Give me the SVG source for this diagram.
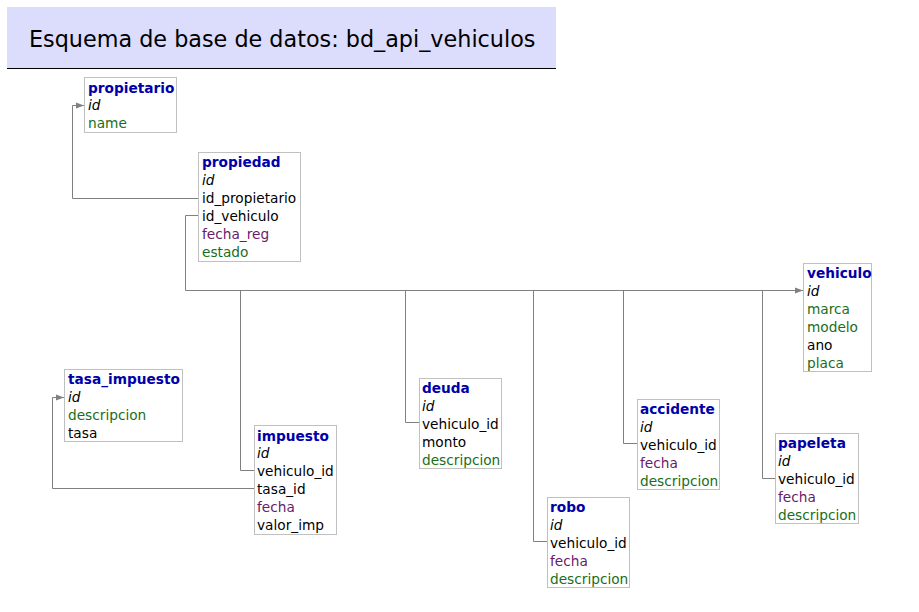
<svg xmlns="http://www.w3.org/2000/svg" width="919" height="612" viewBox="0 0 919 612">
<defs>
<style>
text{font-family:"DejaVu Sans",Verdana,sans-serif;font-size:13.7px;fill:#000}
.t{font-weight:bold;fill:#0000a8}
.k{font-style:italic}
.g{fill:#1a6e1a}
.p{fill:#6a1a6a}
.box{fill:#fff;stroke:#c0c0c0;stroke-width:1}
.c{fill:none;stroke:#808080;stroke-width:1}
</style>
<marker id="ar" markerWidth="8" markerHeight="7" refX="8" refY="3.5" orient="auto" markerUnits="userSpaceOnUse">
<path d="M0,0.5 L8,3.5 L0,6.5 Z" fill="#808080"/>
</marker>
</defs>
<rect width="919" height="612" fill="#fff"/>
<g id="header">
<rect x="7" y="7" width="549" height="61" fill="#dcdcfc"/>
<line x1="7" y1="68.5" x2="556" y2="68.5" stroke="#000" stroke-width="1"/>
<text x="29" y="47" style="font-size:22.3px">Esquema de base de datos: bd_api_vehiculos</text>
</g>
<g id="connectors">
<path class="c" d="M198,198.5 H72.5 V105.5 H84" marker-end="url(#ar)"/>
<path class="c" d="M198,215.5 H185.5 V290.5 H803" marker-end="url(#ar)"/>
<path class="c" d="M240.5,290.5 V470.5 H254"/>
<path class="c" d="M405.5,290.5 V422.5 H419"/>
<path class="c" d="M533.5,290.5 V541.5 H547"/>
<path class="c" d="M623.5,290.5 V443.5 H637"/>
<path class="c" d="M762.5,290.5 V478.5 H775"/>
<path class="c" d="M254,488.5 H52.5 V397.5 H64" marker-end="url(#ar)"/>
</g>
<g id="propietario">
<rect class="box" x="84.5" y="77.5" width="92" height="55"/>
<text x="88" y="93" class="t">propietario</text>
<text x="88" y="110" class="k">id</text>
<text x="88" y="128" class="g">name</text>
</g>
<g id="propiedad">
<rect class="box" x="198.5" y="152.5" width="102" height="109"/>
<text x="202" y="167" class="t">propiedad</text>
<text x="202" y="185" class="k">id</text>
<text x="202" y="203">id_propietario</text>
<text x="202" y="221">id_vehiculo</text>
<text x="202" y="239" class="p">fecha_reg</text>
<text x="202" y="257" class="g">estado</text>
</g>
<g id="vehiculo">
<rect class="box" x="803.5" y="263.5" width="68" height="108"/>
<text x="807" y="278" class="t">vehiculo</text>
<text x="807" y="296" class="k">id</text>
<text x="807" y="314" class="g">marca</text>
<text x="807" y="332" class="g">modelo</text>
<text x="807" y="350">ano</text>
<text x="807" y="368" class="g">placa</text>
</g>
<g id="tasa_impuesto">
<rect class="box" x="64.5" y="369.5" width="118" height="72"/>
<text x="68" y="384" class="t">tasa_impuesto</text>
<text x="68" y="402" class="k">id</text>
<text x="68" y="420" class="g">descripcion</text>
<text x="68" y="438">tasa</text>
</g>
<g id="impuesto">
<rect class="box" x="254.5" y="425.5" width="82" height="109"/>
<text x="257" y="441" class="t">impuesto</text>
<text x="257" y="458" class="k">id</text>
<text x="257" y="476">vehiculo_id</text>
<text x="257" y="494">tasa_id</text>
<text x="257" y="512" class="p">fecha</text>
<text x="257" y="530">valor_imp</text>
</g>
<g id="deuda">
<rect class="box" x="419.5" y="378.5" width="82" height="90"/>
<text x="422" y="393" class="t">deuda</text>
<text x="422" y="411" class="k">id</text>
<text x="422" y="429">vehiculo_id</text>
<text x="422" y="447">monto</text>
<text x="422" y="465" class="g">descripcion</text>
</g>
<g id="robo">
<rect class="box" x="547.5" y="497.5" width="82" height="90"/>
<text x="550" y="512" class="t">robo</text>
<text x="550" y="530" class="k">id</text>
<text x="550" y="548">vehiculo_id</text>
<text x="550" y="566" class="p">fecha</text>
<text x="550" y="584" class="g">descripcion</text>
</g>
<g id="accidente">
<rect class="box" x="637.5" y="399.5" width="82" height="90"/>
<text x="640" y="414" class="t">accidente</text>
<text x="640" y="432" class="k">id</text>
<text x="640" y="450">vehiculo_id</text>
<text x="640" y="468" class="p">fecha</text>
<text x="640" y="486" class="g">descripcion</text>
</g>
<g id="papeleta">
<rect class="box" x="775.5" y="433.5" width="83" height="90"/>
<text x="778" y="448" class="t">papeleta</text>
<text x="778" y="466" class="k">id</text>
<text x="778" y="484">vehiculo_id</text>
<text x="778" y="502" class="p">fecha</text>
<text x="778" y="520" class="g">descripcion</text>
</g>
</svg>
